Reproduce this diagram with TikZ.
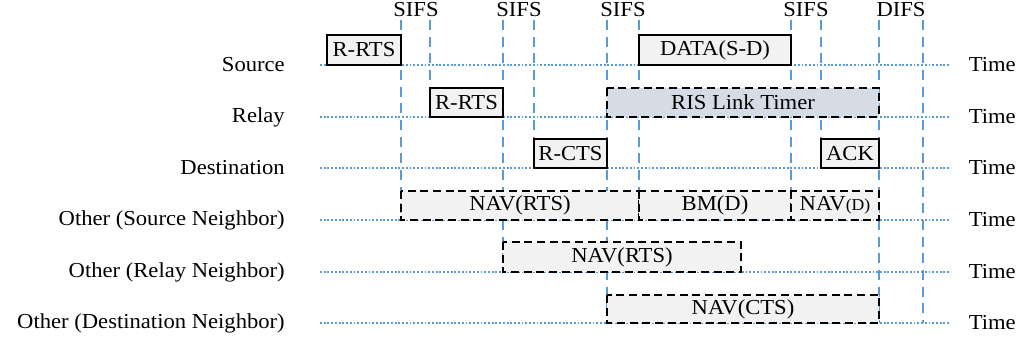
\documentclass[tikz,border=0pt]{standalone}
\usepackage{fontspec}
\setmainfont{Liberation Serif}[FakeStretch=1.06]
\definecolor{slotblue}{RGB}{91,155,213}
\definecolor{boxgray}{RGB}{242,242,242}
\definecolor{timerblue}{RGB}{214,220,229}
\tikzset{
  slotline/.style={draw=slotblue, line width=1.1pt, dash pattern=on 7.5pt off 5pt},
  timeline/.style={draw=slotblue, line width=0.9pt, dash pattern=on 1.4pt off 1.4pt},
  framebox/.style={draw=black, line width=1.3pt, fill=boxgray},
  navbox/.style={framebox, dash pattern=on 6pt off 3.5pt},
  timerbox/.style={navbox, fill=timerblue},
  rowlabel/.style={anchor=east, inner sep=0pt},
  timelabel/.style={anchor=east, inner sep=0pt},
  gaplabel/.style={inner sep=0pt},
  boxtext/.style={inner sep=0pt},
}

\begin{document}
\begin{tikzpicture}[x=0.75pt, y=-0.75pt, font=\fontsize{16}{18}\selectfont]
\useasboundingbox (0,0) rectangle (1019,344);
% slot boundaries
\foreach \x/\e in {401/220, 430/117, 503/272, 534/168, 607/323, 639/220, 791/220, 821/168, 879/323, 923/323}
  \draw[slotline] (\x,20) -- (\x,\e);
\node[gaplabel] (sifsa) at (416,10) {SIFS};
\node[gaplabel] (sifsb) at (519,10) {SIFS};
\node[gaplabel] (sifsc) at (623,10) {SIFS};
\node[gaplabel] (sifsd) at (806,10) {SIFS};
\node[gaplabel] (difs) at (901,10) {DIFS};
% stations and time axes
\foreach \y/\name/\lab in {65/src/{Source}, 117/rly/{Relay}, 168/dst/{Destination},
    220/osn/{Other (Source Neighbor)}, 272/orn/{Other (Relay Neighbor)}, 323/odn/{Other (Destination Neighbor)}}{
  \node[rowlabel] (\name) at (285,\y) {\lab};
  \draw[timeline] (320,\y) -- (950,\y);
  \node[timelabel] (\name-t) at (1016,\y) {Time};
}
% source
\draw[framebox] (327,35) rectangle (401,65);
\node[boxtext] (srcrts) at (364,50) {R-RTS};
\draw[framebox] (639,35) rectangle (791,65);
\node[boxtext] (srcdata) at (715,50) {DATA(S-D)};
% relay
\draw[framebox] (430,88) rectangle (503,117);
\node[boxtext] (rlyrts) at (466.5,102.5) {R-RTS};
\draw[timerbox] (607,88) rectangle (879,117);
\node[boxtext] (rlytimer) at (743,102.5) {RIS Link Timer};
% destination
\draw[framebox] (534,139) rectangle (607,168);
\node[boxtext] (dstcts) at (570.5,153.5) {R-CTS};
\draw[framebox] (821,139) rectangle (879,168);
\node[boxtext] (dstack) at (850,153.5) {ACK};
% source neighbor
\draw[navbox] (401,191) rectangle (639,220);
\node[boxtext] (osnrts) at (520,205.5) {NAV(RTS)};
\draw[navbox] (639,191) rectangle (791,220);
\node[boxtext] (osnbm) at (715,205.5) {BM(D)};
\draw[navbox] (791,191) rectangle (879,220);
\node[boxtext] (osnnav) at (835,205.5) {NAV{\fontsize{12.5}{14}\selectfont(D)}};
% relay neighbor
\draw[navbox] (503,242) rectangle (741,272);
\node[boxtext] (ornrts) at (622,257) {NAV(RTS)};
% destination neighbor
\draw[navbox] (607,295) rectangle (879,323);
\node[boxtext] (odncts) at (743,309) {NAV(CTS)};
\end{tikzpicture}
\end{document}
